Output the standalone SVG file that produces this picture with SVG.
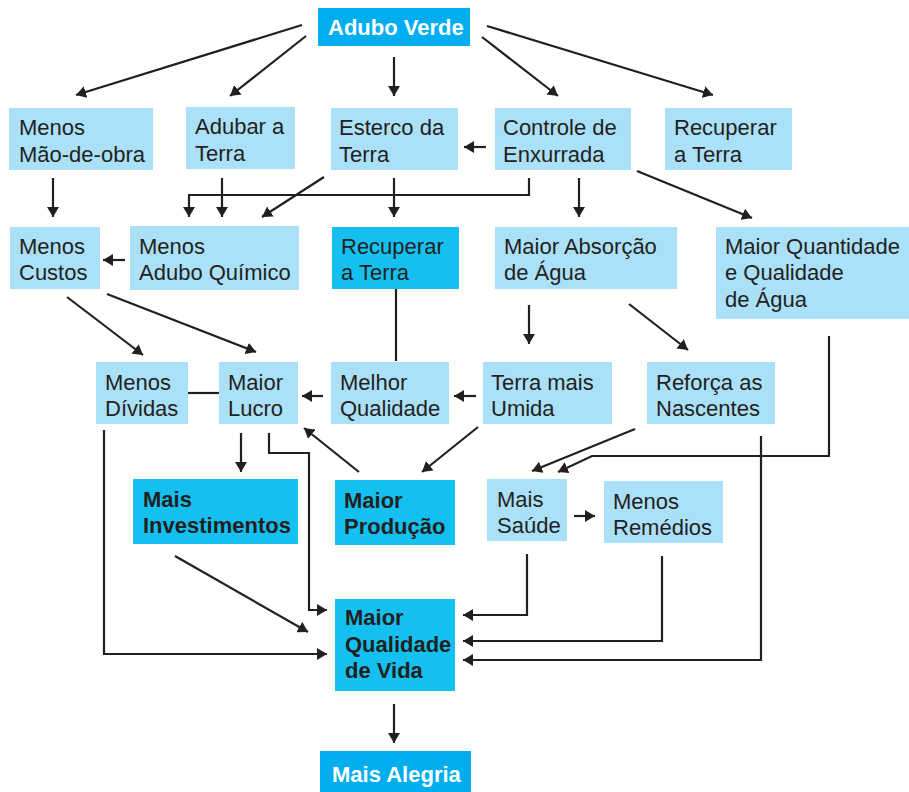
<svg xmlns="http://www.w3.org/2000/svg" width="909" height="792" viewBox="0 0 909 792">
<defs>
<marker id="ah" viewBox="0 0 10 12" refX="10" refY="6" markerWidth="10" markerHeight="12" markerUnits="userSpaceOnUse" orient="auto"><path d="M0,0 L10,6 L0,12 z" fill="#231f20"/></marker>
</defs>
<style>
.lt{fill:#abe0f9}
.dk{fill:#14c0f0}
.tp{fill:#00aeef}
text{font-family:"Liberation Sans",Arial,sans-serif;font-size:22px;fill:#231f20}
.b{font-weight:bold}
.w{fill:#ffffff}
.c line,.c polyline{stroke:#231f20;stroke-width:2.2;fill:none}
.c .a{marker-end:url(#ah)}
</style>
<rect width="909" height="792" fill="#ffffff"/>
<g id="adubo-verde"><rect class="tp" x="318" y="8" width="152" height="38"/><text class="b w" x="328" y="35">Adubo Verde</text></g>
<g id="menos-mao-de-obra"><rect class="lt" x="9" y="108" width="144" height="62"/><text x="19" y="135">Menos</text><text x="19" y="162">Mão-de-obra</text></g>
<g id="adubar-a-terra"><rect class="lt" x="186" y="107" width="109" height="62"/><text x="195" y="134">Adubar a</text><text x="195" y="161">Terra</text></g>
<g id="esterco-da-terra"><rect class="lt" x="331" y="108" width="127" height="62"/><text x="339" y="135">Esterco da</text><text x="339" y="162">Terra</text></g>
<g id="controle-de-enxurrada"><rect class="lt" x="495" y="108" width="136" height="62"/><text x="503" y="135">Controle de</text><text x="503" y="162">Enxurrada</text></g>
<g id="recuperar-a-terra-1"><rect class="lt" x="665" y="108" width="127" height="62"/><text x="674" y="135">Recuperar</text><text x="674" y="162">a Terra</text></g>
<g id="menos-custos"><rect class="lt" x="10" y="227" width="90" height="62"/><text x="19" y="254">Menos</text><text x="19" y="280">Custos</text></g>
<g id="menos-adubo-quimico"><rect class="lt" x="130" y="226" width="169" height="64"/><text x="139" y="254">Menos</text><text x="139" y="280">Adubo Químico</text></g>
<g id="recuperar-a-terra-2"><rect class="dk" x="332" y="227" width="127" height="62"/><text x="341" y="254">Recuperar</text><text x="341" y="280">a Terra</text></g>
<g id="maior-absorcao"><rect class="lt" x="495" y="227" width="182" height="62"/><text x="504" y="254">Maior Absorção</text><text x="504" y="280">de Água</text></g>
<g id="maior-quantidade"><rect class="lt" x="716" y="227" width="193" height="92"/><text x="725" y="254">Maior Quantidade</text><text x="725" y="280">e Qualidade</text><text x="725" y="307">de Água</text></g>
<g id="menos-dividas"><rect class="lt" x="96" y="362" width="92" height="62"/><text x="105" y="390">Menos</text><text x="105" y="416">Dívidas</text></g>
<g id="maior-lucro"><rect class="lt" x="219" y="362" width="79" height="62"/><text x="228" y="390">Maior</text><text x="228" y="416">Lucro</text></g>
<g id="melhor-qualidade"><rect class="lt" x="331" y="362" width="118" height="62"/><text x="340" y="390">Melhor</text><text x="340" y="416">Qualidade</text></g>
<g id="terra-mais-umida"><rect class="lt" x="483" y="362" width="129" height="62"/><text x="491" y="390">Terra mais</text><text x="491" y="416">Umida</text></g>
<g id="reforca-as-nascentes"><rect class="lt" x="647" y="362" width="128" height="62"/><text x="656" y="390">Reforça as</text><text x="656" y="416">Nascentes</text></g>
<g id="mais-investimentos"><rect class="dk" x="133" y="479" width="165" height="65"/><text class="b" x="143" y="507">Mais</text><text class="b" x="143" y="533">Investimentos</text></g>
<g id="maior-producao"><rect class="dk" x="335" y="480" width="120" height="65"/><text class="b" x="344" y="508">Maior</text><text class="b" x="344" y="534">Produção</text></g>
<g id="mais-saude"><rect class="lt" x="487" y="479" width="80" height="62"/><text x="497" y="507">Mais</text><text x="497" y="533">Saúde</text></g>
<g id="menos-remedios"><rect class="lt" x="604" y="481" width="119" height="62"/><text x="613" y="509">Menos</text><text x="613" y="535">Remédios</text></g>
<g id="maior-qualidade-de-vida"><rect class="dk" x="335" y="599" width="120" height="92"/><text class="b" x="345" y="625">Maior</text><text class="b" x="345" y="652">Qualidade</text><text class="b" x="345" y="678">de Vida</text></g>
<g id="mais-alegria"><rect class="tp" x="320" y="751" width="151" height="41"/><text class="b w" x="332" y="782">Mais Alegria</text></g>
<g id="connectors" class="c">
<line class="a" x1="302" y1="25" x2="76" y2="95"/>
<line class="a" x1="306" y1="36" x2="230" y2="96"/>
<line class="a" x1="394" y1="57" x2="394" y2="96"/>
<line class="a" x1="482" y1="37" x2="558" y2="96"/>
<line class="a" x1="487" y1="26" x2="713" y2="95"/>
<line class="a" x1="486" y1="147" x2="464" y2="147"/>
<line class="a" x1="53" y1="178" x2="53" y2="217"/>
<line class="a" x1="222" y1="178" x2="222" y2="217"/>
<polyline class="a" points="529,178 529,195 189,195 189,217"/>
<line class="a" x1="324" y1="177" x2="262" y2="217"/>
<line class="a" x1="394" y1="178" x2="394" y2="217"/>
<line class="a" x1="579" y1="178" x2="579" y2="217"/>
<line class="a" x1="637" y1="171" x2="752" y2="218"/>
<line class="a" x1="125" y1="260" x2="103" y2="260"/>
<line class="a" x1="67" y1="297" x2="143" y2="355"/>
<line class="a" x1="107" y1="294" x2="256" y2="352"/>
<line x1="396" y1="289" x2="396" y2="361"/>
<line class="a" x1="529" y1="305" x2="529" y2="344"/>
<line class="a" x1="629" y1="304" x2="688" y2="350"/>
<polyline class="a" points="829,336 829,456 592,456 558,472"/>
<line x1="188" y1="393" x2="219" y2="393"/>
<line class="a" x1="323" y1="396" x2="302" y2="396"/>
<line class="a" x1="476" y1="396" x2="454" y2="396"/>
<line class="a" x1="635" y1="429" x2="532" y2="471"/>
<line class="a" x1="478" y1="427" x2="422" y2="472"/>
<line class="a" x1="359" y1="472" x2="304" y2="428"/>
<line class="a" x1="241" y1="433" x2="241" y2="472"/>
<polyline class="a" points="269,433 269,453 309,453 309,610 327,610"/>
<polyline class="a" points="104,430 104,654 327,654"/>
<line class="a" x1="175" y1="556" x2="308" y2="632"/>
<line class="a" x1="574" y1="516" x2="595" y2="516"/>
<polyline class="a" points="527,554 527,615 463,615"/>
<polyline class="a" points="662,556 662,641 463,641"/>
<polyline class="a" points="761,436 761,660 463,660"/>
<line class="a" x1="394" y1="704" x2="394" y2="743"/>
</g>
</svg>
